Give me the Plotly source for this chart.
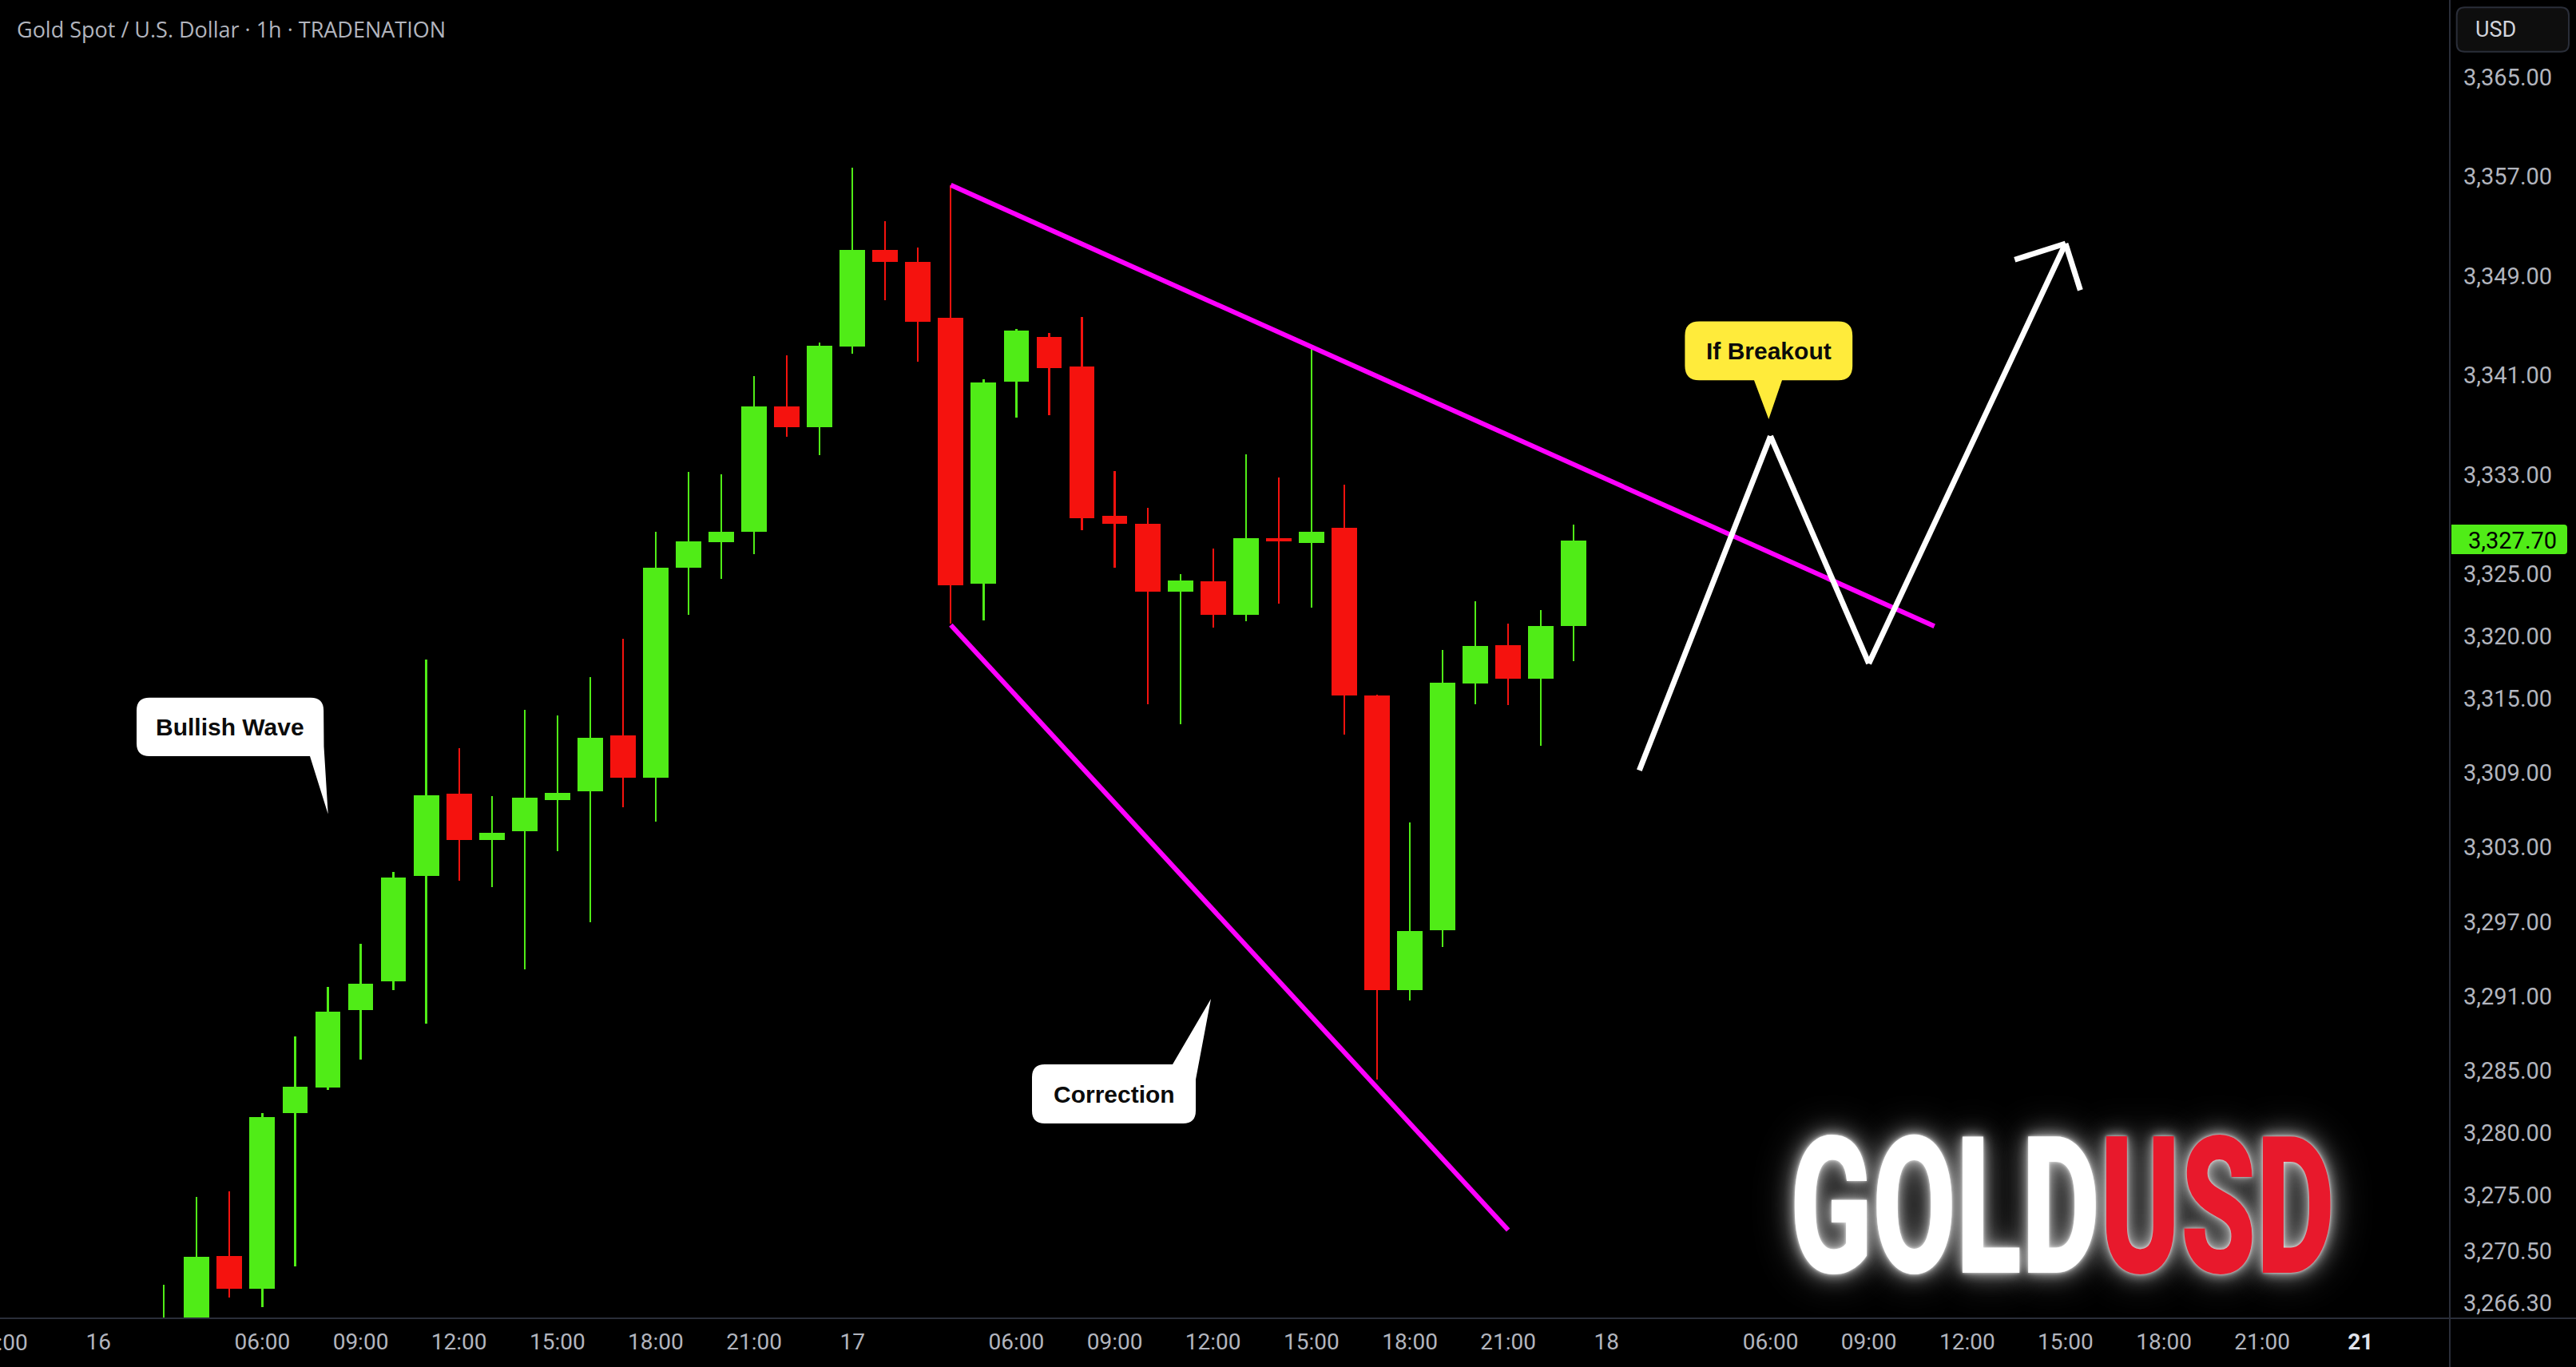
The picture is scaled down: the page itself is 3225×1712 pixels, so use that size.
import math
import plotly.graph_objects as go

# ------------------------------------------------------------------ data
bar_index = list(range(2, 46))
opens = [3262.0, 3264.3, 3270.1, 3267.5, 3281.6, 3283.7, 3289.9, 3292.2, 3300.7, 3307.3,
         3303.6, 3304.3, 3306.8, 3307.5, 3312.0, 3308.6, 3325.5, 3327.55, 3328.4, 3338.5,
         3336.8, 3343.3, 3351.1, 3350.1, 3345.6, 3324.2, 3340.45, 3344.1, 3341.7, 3329.7,
         3329.05, 3323.6, 3324.4, 3321.7, 3327.9, 3327.5, 3328.7, 3315.2, 3291.5, 3296.35,
         3316.2, 3319.3, 3316.55, 3320.8]
highs = [3267.8, 3274.9, 3275.3, 3281.6, 3287.8, 3291.8, 3295.25, 3301.0, 3318.1, 3311.0,
         3307.1, 3314.1, 3313.6, 3316.7, 3319.8, 3328.4, 3333.2, 3333.0, 3340.9, 3342.6,
         3343.6, 3357.7, 3353.4, 3351.3, 3356.3, 3340.7, 3344.7, 3344.4, 3345.7, 3333.3,
         3330.3, 3325.0, 3327.05, 3334.65, 3332.8, 3343.45, 3332.2, 3315.3, 3305.0, 3318.9,
         3322.8, 3321.0, 3322.1, 3329.0]
lows = [3260.5, 3263.0, 3266.8, 3266.0, 3269.25, 3283.5, 3285.95, 3291.5, 3288.8, 3300.3,
        3299.8, 3293.2, 3302.7, 3297.0, 3306.25, 3305.1, 3321.7, 3324.6, 3326.6, 3336.05,
        3334.6, 3342.7, 3347.05, 3342.1, 3321.0, 3321.25, 3337.6, 3337.8, 3328.55, 3325.5,
        3314.5, 3312.9, 3320.7, 3321.2, 3322.6, 3322.3, 3312.05, 3284.3, 3290.7, 3295.0,
        3314.5, 3314.45, 3311.2, 3318.0]
closes = [3264.6, 3270.05, 3267.5, 3281.3, 3283.75, 3289.8, 3292.0, 3300.6, 3307.2, 3303.6,
          3304.2, 3307.0, 3307.4, 3311.8, 3308.6, 3325.5, 3327.6, 3328.4, 3338.5, 3336.8,
          3343.4, 3351.1, 3350.1, 3345.3, 3324.1, 3340.4, 3344.6, 3341.6, 3329.5, 3329.05,
          3323.6, 3324.5, 3321.7, 3327.9, 3327.6, 3328.4, 3315.2, 3291.5, 3296.3, 3316.25,
          3319.2, 3316.55, 3320.8, 3327.7]

# first label sits on the left edge of the time axis (half cut off)
edge_time_label = "21:00"
time_tick_index = [0, 5, 8, 11, 14, 17, 20, 23, 28, 31, 34, 37, 40, 43,
                   46, 51, 54, 57, 60, 63, 66, 69]
time_tick_labels = ["16", "06:00", "09:00", "12:00", "15:00", "18:00", "21:00",
                    "17", "06:00", "09:00", "12:00", "15:00", "18:00", "21:00",
                    "18", "06:00", "09:00", "12:00", "15:00", "18:00", "21:00", "21"]

price_ticks = [3365, 3357, 3349, 3341, 3333, 3325, 3320, 3315, 3309, 3303, 3297,
               3291, 3285, 3280, 3275, 3270.5, 3266.3]
last_price = 3327.70

# drawing anchors (bar index, price)
upper_trend = [(26, 3356.3), (56, 3320.8)]
lower_trend = [(26, 3320.9), (43, 3272.2)]
projection = [(47, 3309.2), (51, 3336.1), (54, 3317.8), (60, 3351.6)]
arrow_wings = [(58.45, 3350.3), (60.45, 3347.85)]

# ------------------------------------------------------------------ style / layout
FIG_W, FIG_H = 3225, 1712
PLOT_W, PLOT_H = 3067, 1651
X_RANGE = [-3.0, 71.72]
Y_RANGE = [3265.10, 3371.20]
GREEN = "#50ec17"
RED = "#f5120e"
MAGENTA = "#ff00ff"
AXIS_TXT = "#b2b5be"
GRID_LINE = "#2a2e39"
AXIS_FONT = "Roboto, sans-serif"


def PX(x):
    return x / PLOT_W


def PY(y):
    return 1 - y / PLOT_H


def rounded_path(pts):
    n = len(pts)
    out = []
    for k in range(n):
        x, y, r = pts[k]
        if r <= 0:
            out.append(("L", (x, y)))
            continue
        px_, py_, _ = pts[k - 1]
        nx, ny, _ = pts[(k + 1) % n]
        l1 = math.hypot(px_ - x, py_ - y)
        l2 = math.hypot(nx - x, ny - y)
        a = (x + (px_ - x) / l1 * r, y + (py_ - y) / l1 * r)
        b = (x + (nx - x) / l2 * r, y + (ny - y) / l2 * r)
        out.append(("Q", a, (x, y), b))

    def f(p):
        return f"{PX(p[0]):.6f},{PY(p[1]):.6f}"

    s = ""
    for i, seg in enumerate(out):
        cmd = "M" if i == 0 else "L"
        if seg[0] == "L":
            s += f"{cmd}{f(seg[1])} "
        else:
            s += f"{cmd}{f(seg[1])} Q{f(seg[2])} {f(seg[3])} "
    return s + "Z"


fig = go.Figure()
for is_up, color in ((True, GREEN), (False, RED)):
    sel = [k for k in range(len(bar_index)) if (closes[k] >= opens[k]) == is_up]
    xs = [bar_index[k] for k in sel]
    fig.add_trace(go.Bar(
        x=xs, y=[highs[k] - lows[k] for k in sel], base=[lows[k] for k in sel],
        width=0.055, marker=dict(color=color, line=dict(width=0)), hoverinfo="skip"))
    fig.add_trace(go.Bar(
        x=xs, y=[abs(closes[k] - opens[k]) for k in sel],
        base=[min(opens[k], closes[k]) for k in sel],
        width=0.775, marker=dict(color=color, line=dict(width=0)), hoverinfo="skip"))

shapes = []


def seg(p0, p1, color, width):
    shapes.append(dict(type="line", xref="x", yref="y", x0=p0[0], y0=p0[1], x1=p1[0], y1=p1[1],
                       line=dict(color=color, width=width), layer="above"))


seg(upper_trend[0], upper_trend[1], MAGENTA, 6)
seg(lower_trend[0], lower_trend[1], MAGENTA, 6)
for a, b in zip(projection[:-1], projection[1:]):
    seg(a, b, "white", 7)
for w in arrow_wings:
    seg(w, projection[-1], "white", 7)

# callout boxes
callouts = [
    ("Bullish Wave", "white", (288, 910),
     [(171, 873.7, 16), (405, 873.7, 16), (405.5, 935, 0), (410.7, 1019.6, 0), (388, 947, 0), (171, 947, 16)]),
    ("Correction", "white", (1395, 1370),
     [(1292, 1333, 16), (1468, 1333, 0), (1516, 1251, 0), (1497, 1352, 0), (1497, 1407, 16), (1292, 1407, 16)]),
    ("If Breakout", "#ffeb3b", (2214, 439),
     [(2109.4, 402.5, 18), (2319.2, 402.5, 18), (2319.2, 476.3, 18), (2231, 476.3, 0),
      (2214.3, 524.9, 0), (2196, 476.3, 0), (2109.4, 476.3, 18)]),
]
annotations = []
for text, fill, (cx, cy), pts in callouts:
    shapes.append(dict(type="path", xref="paper", yref="paper", path=rounded_path(pts),
                       fillcolor=fill, line=dict(width=0), layer="above"))
    annotations.append(dict(xref="paper", yref="paper", x=PX(cx), y=PY(cy), text=f"<b>{text}</b>",
                            showarrow=False, xanchor="center", yanchor="middle",
                            font=dict(family="Liberation Sans, Arial, sans-serif", size=30, color="#0b0b0b")))

# frame lines
shapes.append(dict(type="line", xref="paper", yref="paper", x0=0, x1=FIG_W / PLOT_W, y0=0, y1=0,
                   line=dict(color=GRID_LINE, width=2), layer="above"))
shapes.append(dict(type="line", xref="paper", yref="paper", x0=1, x1=1, y0=PY(FIG_H), y1=1,
                   line=dict(color=GRID_LINE, width=2), layer="above"))

# USD box
shapes.append(dict(type="path", xref="paper", yref="paper",
                   path=rounded_path([(3075.7, 9.3, 10), (3216, 9.3, 10), (3216, 64.7, 10), (3075.7, 64.7, 10)]),
                   fillcolor="#0e0e0e", line=dict(color=GRID_LINE, width=2), layer="above"))
annotations.append(dict(xref="paper", yref="paper", x=PX(3124), y=PY(37), text="USD", showarrow=False,
                        xanchor="center", yanchor="middle",
                        font=dict(family=AXIS_FONT, size=27, color="#d1d4dc")))

# last price label
lp_y = (last_price - Y_RANGE[0]) / (Y_RANGE[1] - Y_RANGE[0])
shapes.append(dict(type="path", xref="paper", yref="paper",
                   path=rounded_path([(3069, 657, 0), (3214, 657, 4), (3214, 694, 4), (3069, 694, 0)]),
                   fillcolor=GREEN, line=dict(width=0), layer="above"))
annotations.append(dict(xref="paper", yref="paper", x=PX(3145), y=lp_y, text=f"{last_price:,.2f}",
                        showarrow=False, xanchor="center", yanchor="middle",
                        font=dict(family=AXIS_FONT, size=29, color="#000000")))

# edge time label (left edge, partially outside)
annotations.append(dict(xref="paper", yref="paper", x=0, y=PY(1681), text=edge_time_label,
                        showarrow=False, xanchor="center", yanchor="middle",
                        font=dict(family=AXIS_FONT, size=28, color=AXIS_TXT)))

# title
annotations.append(dict(xref="paper", yref="paper", x=PX(19), y=PY(36),
                        text="Gold Spot / U.S. Dollar · 1h · TRADENATION", showarrow=False,
                        xanchor="left", yanchor="middle",
                        font=dict(family="Open Sans, sans-serif", size=27, color=AXIS_TXT)))

# logo
annotations.append(dict(xref="paper", yref="paper", x=PX(2582), y=PY(1512),
                        text="GOLD<span style='color:#e8192c'>USD</span>", showarrow=False,
                        xanchor="center", yanchor="middle",
                        font=dict(family="Roboto, Liberation Sans, sans-serif", size=240, color="white",
                                  weight=900,
                                  shadow="0 0 4px rgba(255,255,255,0.8), 0 0 14px rgba(255,255,255,0.6), "
                                         "0 0 30px rgba(255,255,255,0.5), 0 0 55px rgba(255,255,255,0.3)")))

ticktext = [f"<span style='color:#e0e3eb'><b>{t}</b></span>" if k == len(time_tick_labels) - 1 else t
            for k, t in enumerate(time_tick_labels)]

fig.update_layout(
    width=FIG_W, height=FIG_H,
    margin=dict(l=0, r=FIG_W - PLOT_W, t=0, b=FIG_H - PLOT_H),
    paper_bgcolor="#000000", plot_bgcolor="#000000",
    showlegend=False, barmode="overlay", bargap=0, hovermode=False,
    shapes=shapes, annotations=annotations,
    xaxis=dict(range=X_RANGE, tickvals=time_tick_index, ticktext=ticktext, showgrid=False,
               zeroline=False, showline=False, ticks="", ticklabelstandoff=10,
               tickfont=dict(family=AXIS_FONT, size=28, color=AXIS_TXT)),
    yaxis=dict(range=Y_RANGE, side="right", tickvals=price_ticks,
               ticktext=[f"{v:,.2f}" for v in price_ticks], showgrid=False, zeroline=False,
               showline=False, ticks="", ticklabelstandoff=16,
               tickfont=dict(family=AXIS_FONT, size=29, color=AXIS_TXT)),
)

post_js = """
document.body.style.margin = '0';
document.body.style.padding = '0';
document.body.style.background = '#000';
document.body.style.overflow = 'hidden';
var gd = document.getElementById('{plot_id}');
function squeezeLogo(){
  var ts = gd.querySelectorAll('text.annotation-text');
  for (var k = 0; k < ts.length; k++) {
    var t = ts[k];
    if (t.textContent.replace(/\\s/g, '') === 'GOLDUSD') {
      t.removeAttribute('transform');
      var bb = t.getBBox();
      var sx = 682 / bb.width;
      var cx = bb.x + bb.width / 2;
      t.setAttribute('transform', 'translate(' + cx + ' 0) scale(' + sx + ' 1) translate(' + (-cx) + ' 0)');
    }
  }
}
squeezeLogo();
gd.on('plotly_afterplot', squeezeLogo);
"""

fig.write_html("out.html", post_script=post_js, config={"displayModeBar": False, "staticPlot": True})
